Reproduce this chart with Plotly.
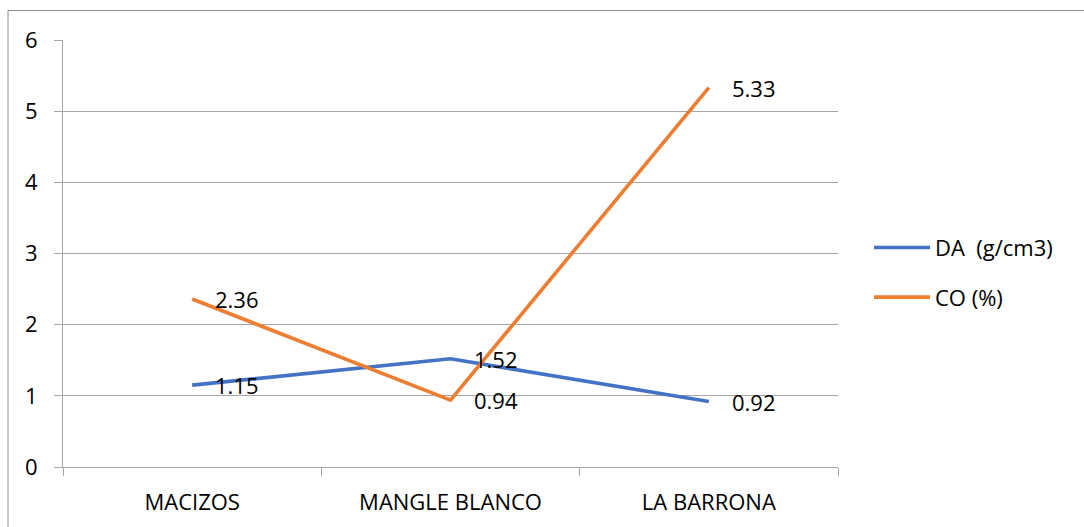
import plotly.graph_objects as go

# Site categories and measured series
sites = ["MACIZOS", "MANGLE BLANCO", "LA BARRONA"]
da_values = [1.15, 1.52, 0.92]   # DA (g/cm3)
co_values = [2.36, 0.94, 5.33]   # CO (%)

series_names = ["DA  (g/cm3)", "CO (%)"]
series_colors = ["#4472C4", "#ED7D31"]
y_ticks = [0, 1, 2, 3, 4, 5, 6]

FONT = "Open Sans"
FS = 22
GRID = "#A6A6A6"

fig = go.Figure()
for i, (name, vals, color) in enumerate(zip(series_names, [da_values, co_values], series_colors)):
    fig.add_trace(go.Scatter(
        x=sites, y=vals, name=name, mode="lines",
        line=dict(color=color, width=3.6),
        legendgroup=f"g{i}",
    ))

# Value labels placed to the right of each point
annotations = []
for vals in [da_values, co_values]:
    for s, v in zip(sites, vals):
        annotations.append(dict(
            x=s, y=v, xref="x", yref="y", text=f"{v:.2f}",
            showarrow=False, xanchor="left", yanchor="middle",
            xshift=21, yshift=0,
            font=dict(family=FONT, size=FS, color="#000000"),
        ))

# Chart frame (left and top edges)
L, R, T, B = 63, 838, 39.5, 467
pw, ph = R - L, B - T
fx0 = (8 - L) / pw
fy1 = 1 + (T - 10) / ph
shapes = [
    dict(type="line", xref="paper", yref="paper", x0=fx0, x1=fx0, y0=-0.5, y1=fy1,
         line=dict(color="#8C8C8C", width=1)),
    dict(type="line", xref="paper", yref="paper", x0=fx0, x1=1.6, y0=fy1, y1=fy1,
         line=dict(color="#8C8C8C", width=1)),
]

fig.update_layout(
    width=1084, height=527,
    margin=dict(l=L, r=1084 - R, t=T, b=527 - B),
    paper_bgcolor="white", plot_bgcolor="white",
    font=dict(family=FONT, size=FS, color="#000000"),
    showlegend=True,
    legend=dict(
        x=1.04, xanchor="left", y=0.455, yanchor="middle",
        font=dict(family=FONT, size=FS, color="#000000"),
        tracegroupgap=18, itemwidth=56, bgcolor="rgba(0,0,0,0)",
    ),
    xaxis=dict(
        type="category", range=[-0.5, 2.5],
        showgrid=False, showline=True, linecolor=GRID, linewidth=1,
        ticks="outside", tickson="boundaries", ticklen=8, tickcolor=GRID,
        tickfont=dict(family=FONT, size=FS, color="#000000"),
        ticklabelstandoff=16,
        fixedrange=True,
    ),
    yaxis=dict(
        range=[0, 6], tickvals=y_ticks,
        showgrid=True, gridcolor=GRID, gridwidth=1,
        showline=True, linecolor=GRID, linewidth=1,
        ticks="outside", ticklen=8, tickcolor=GRID,
        tickfont=dict(family=FONT, size=FS, color="#000000"),
        ticklabelstandoff=12,
        zeroline=False, fixedrange=True,
    ),
    annotations=annotations,
    shapes=shapes,
)

fig.write_html("out.html")
